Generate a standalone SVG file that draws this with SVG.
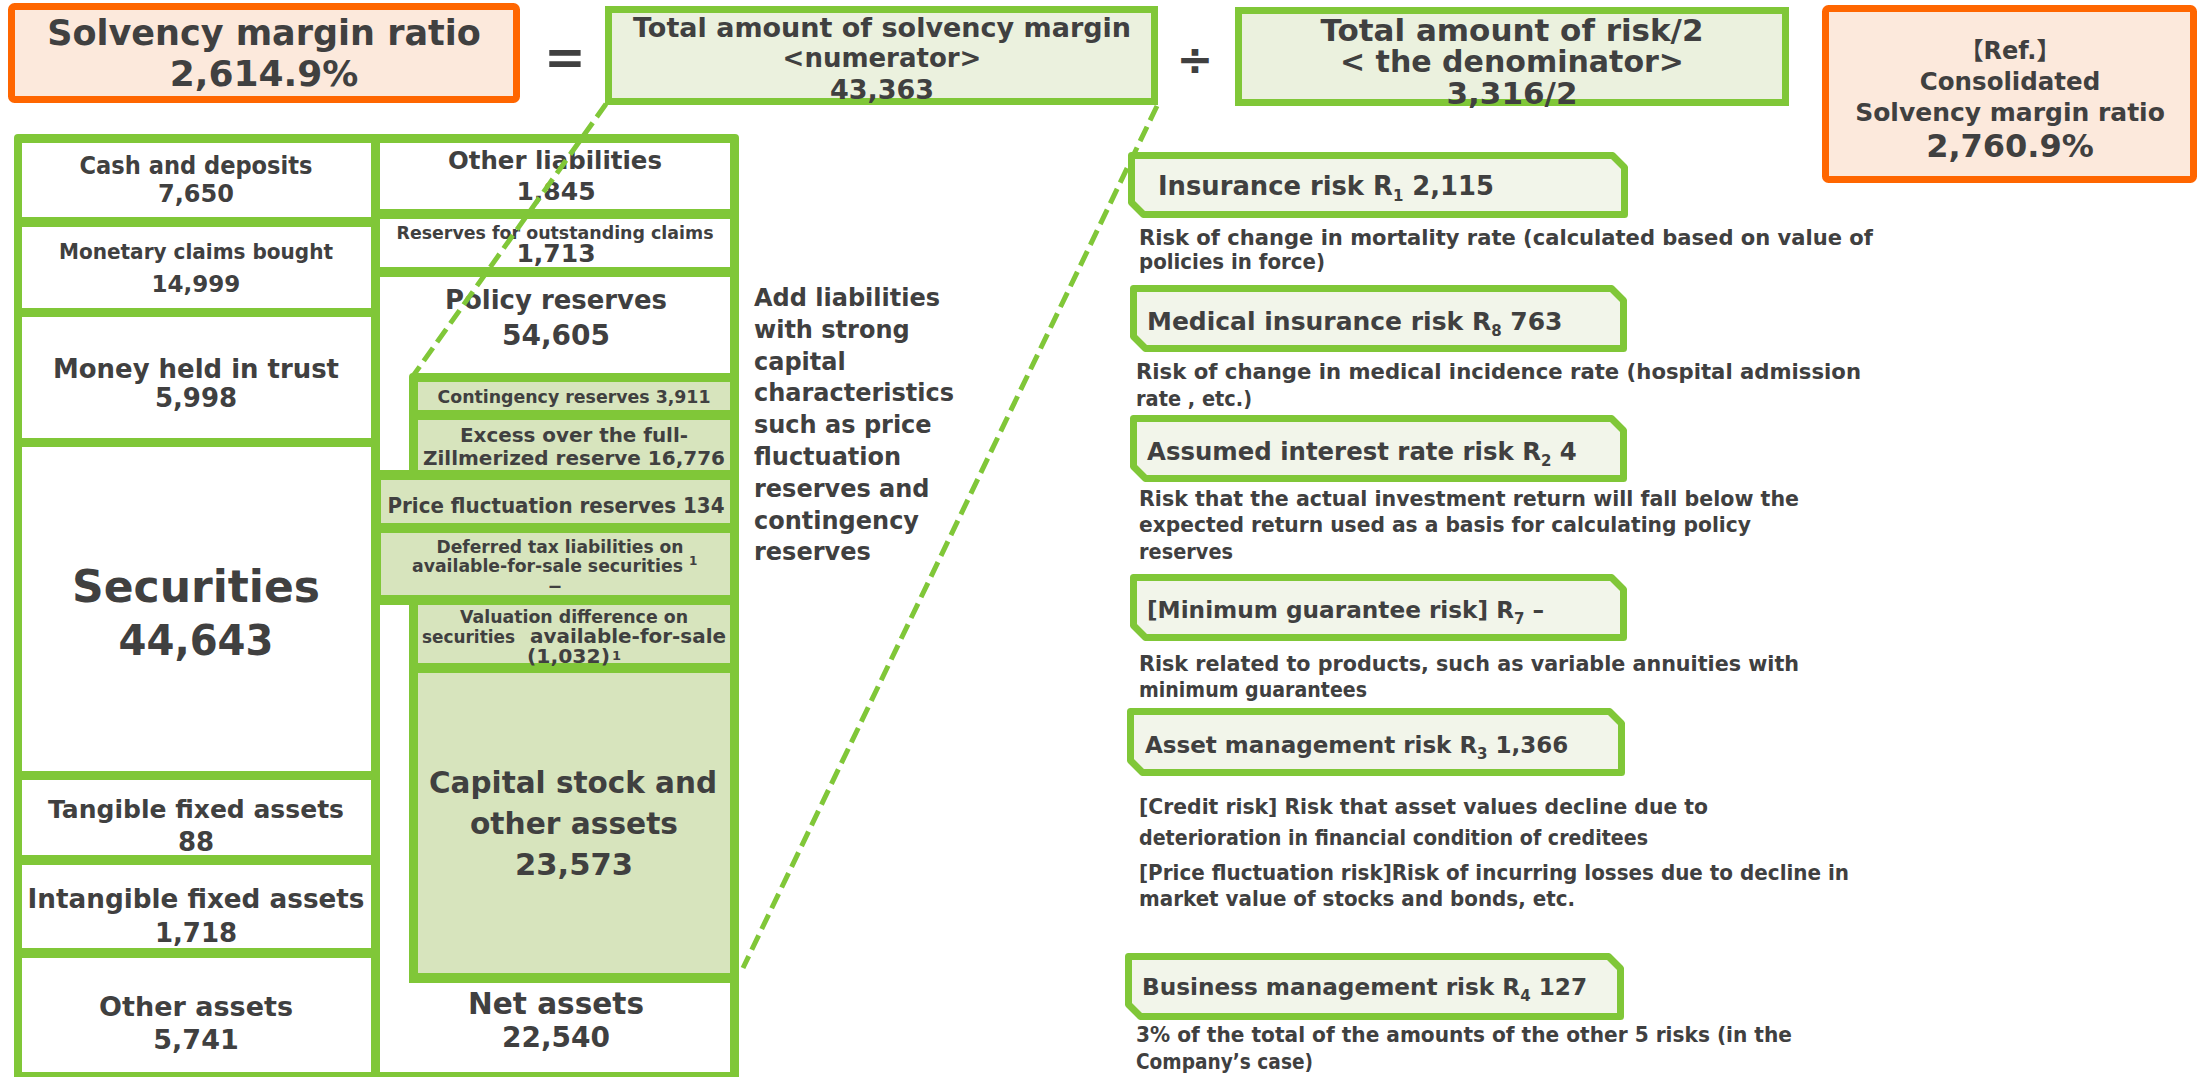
<svg xmlns="http://www.w3.org/2000/svg" width="2197" height="1077" viewBox="0 0 2197 1077">
<style>
text{font-family:"DejaVu Sans","Noto Sans CJK JP",sans-serif;font-weight:bold;fill:#404040}
.c{text-anchor:middle}
.g{fill:#80C738}
.w{fill:#FFFFFF}
.n{fill:#D7E4BD}
.ob{fill:#FCE9DC;stroke:#FF6600;stroke-width:7}
.gb{fill:#EBF1DE;stroke:#80C738;stroke-width:7}
.risk{fill:#F2F5EA;stroke:#80C738;stroke-width:7;stroke-linejoin:round}
.dash{fill:none;stroke:#80C738;stroke-width:5;stroke-dasharray:16 7}
.d{font-size:20.5px}
.sub{font-size:15px}
</style>

<g id="ratio">
<rect class="ob" x="11.5" y="6.5" width="505" height="93" rx="3"/>
<text class="c" x="264" y="45" font-size="35">Solvency margin ratio</text>
<text class="c" x="264" y="86" font-size="36">2,614.9%</text>
</g>
<text id="equals" class="c" x="565" y="74" font-size="50">=</text>
<g id="numerator">
<rect class="gb" x="608.5" y="9.5" width="546" height="92"/>
<text class="c" x="882" y="37" font-size="27">Total amount of solvency margin</text>
<text class="c" x="882" y="67" font-size="26">&lt;numerator&gt;</text>
<text class="c" x="882" y="99" font-size="27">43,363</text>
</g>
<text id="divide" class="c" x="1195" y="75" font-size="44">÷</text>
<g id="denominator">
<rect class="gb" x="1238.5" y="10.5" width="547" height="92"/>
<text class="c" x="1512" y="41" font-size="29.5" textLength="383" lengthAdjust="spacingAndGlyphs">Total amount of risk/2</text>
<text class="c" x="1512" y="72" font-size="29.5" textLength="344" lengthAdjust="spacingAndGlyphs">&lt; the denominator&gt;</text>
<text class="c" x="1512" y="104" font-size="31">3,316/2</text>
</g>
<g id="ref">
<rect class="ob" x="1825.5" y="8.5" width="368" height="171" rx="3"/>
<text class="c" x="2010" y="59" font-size="24">【Ref.】</text>
<text class="c" x="2010" y="90" font-size="24.5">Consolidated</text>
<text class="c" x="2010" y="121" font-size="25">Solvency margin ratio</text>
<text class="c" x="2010" y="157" font-size="32">2,760.9%</text>
</g>

<g id="balance-sheet">
<rect class="g" x="14" y="134" width="725" height="950" rx="4"/>
<g id="assets">
<g id="cash"><rect class="w" x="22" y="143" width="349" height="74"/>
<text class="c" x="196" y="174" font-size="24" textLength="233" lengthAdjust="spacingAndGlyphs">Cash and deposits</text>
<text class="c" x="196" y="202" font-size="24">7,650</text></g>
<g id="monetary"><rect class="w" x="22" y="227" width="349" height="81"/>
<text class="c" x="196" y="259" font-size="20.5" textLength="274" lengthAdjust="spacingAndGlyphs">Monetary claims bought</text>
<text class="c" x="196" y="292" font-size="23">14,999</text></g>
<g id="trust"><rect class="w" x="22" y="317" width="349" height="121"/>
<text class="c" x="196" y="378" font-size="26" textLength="286" lengthAdjust="spacingAndGlyphs">Money held in trust</text>
<text class="c" x="196" y="407" font-size="26">5,998</text></g>
<g id="securities"><rect class="w" x="22" y="447" width="349" height="324"/>
<text class="c" x="196" y="602" font-size="45" textLength="248" lengthAdjust="spacingAndGlyphs">Securities</text>
<text class="c" x="196" y="655" font-size="42" textLength="155" lengthAdjust="spacingAndGlyphs">44,643</text></g>
<g id="tangible"><rect class="w" x="22" y="780" width="349" height="75"/>
<text class="c" x="196" y="818" font-size="25.5" textLength="296" lengthAdjust="spacingAndGlyphs">Tangible fixed assets</text>
<text class="c" x="196" y="851" font-size="26">88</text></g>
<g id="intangible"><rect class="w" x="22" y="865" width="349" height="83"/>
<text class="c" x="196" y="908" font-size="27" textLength="337" lengthAdjust="spacingAndGlyphs">Intangible fixed assets</text>
<text class="c" x="196" y="942" font-size="26">1,718</text></g>
<g id="other-assets"><rect class="w" x="22" y="958" width="349" height="114"/>
<text class="c" x="196" y="1016" font-size="27" textLength="194" lengthAdjust="spacingAndGlyphs">Other assets</text>
<text class="c" x="196" y="1049" font-size="27">5,741</text></g>
</g>
<g id="liabilities">
<g id="other-liabilities"><rect class="w" x="380" y="143" width="350" height="66"/>
<text class="c" x="555" y="169" font-size="24.5" textLength="214" lengthAdjust="spacingAndGlyphs">Other liabilities</text>
<text class="c" x="556" y="200" font-size="25">1,845</text></g>
<g id="outstanding"><rect class="w" x="380" y="219" width="350" height="48"/>
<text class="c" x="555" y="239" font-size="17.5" textLength="317" lengthAdjust="spacingAndGlyphs">Reserves for outstanding claims</text>
<text class="c" x="556" y="262" font-size="25">1,713</text></g>
<g id="policy-reserves"><rect class="w" x="380" y="277" width="350" height="193"/>
<text class="c" x="556" y="309" font-size="26" textLength="222" lengthAdjust="spacingAndGlyphs">Policy reserves</text>
<text class="c" x="556" y="345" font-size="28">54,605</text></g>
<g id="net-assets"><rect class="w" x="380" y="605" width="350" height="467"/>
<text class="c" x="556" y="1014" font-size="29.5" textLength="176" lengthAdjust="spacingAndGlyphs">Net assets</text>
<text class="c" x="556" y="1047" font-size="28">22,540</text></g>
</g>
<g id="margin-items">
<path class="g" d="M413,373 H739 V983 H409 V605 H372 V470 H409 V377 Q409,373 413,373 Z"/>
<g id="contingency"><rect class="n" x="418" y="382" width="312" height="28"/>
<text class="c" x="574" y="403" font-size="17.5" textLength="273" lengthAdjust="spacingAndGlyphs">Contingency reserves 3,911</text></g>
<g id="excess"><rect class="n" x="418" y="420" width="312" height="50"/>
<text class="c" x="574" y="442" font-size="20" textLength="228" lengthAdjust="spacingAndGlyphs">Excess over the full-</text>
<text class="c" x="574" y="465" font-size="20" textLength="302" lengthAdjust="spacingAndGlyphs">Zillmerized reserve 16,776</text></g>
<g id="price-fluctuation"><rect class="n" x="381" y="480" width="349" height="43"/>
<text class="c" x="556" y="513" font-size="20.5" textLength="337" lengthAdjust="spacingAndGlyphs">Price fluctuation reserves 134</text></g>
<g id="deferred-tax"><rect class="n" x="381" y="533" width="349" height="62"/>
<text class="c" x="560" y="553" font-size="17.5" textLength="247" lengthAdjust="spacingAndGlyphs">Deferred tax liabilities on</text>
<text x="412" y="572" font-size="17.5" textLength="271" lengthAdjust="spacingAndGlyphs">available-for-sale securities</text>
<text x="689" y="565" font-size="12">1</text>
<text x="548" y="592" font-size="18" textLength="14" lengthAdjust="spacingAndGlyphs">–</text></g>
<g id="valuation"><rect class="n" x="418" y="605" width="312" height="58"/>
<text class="c" x="574" y="623" font-size="17.5" textLength="228" lengthAdjust="spacingAndGlyphs">Valuation difference on</text>
<text x="422" y="643" font-size="17.5" textLength="93" lengthAdjust="spacingAndGlyphs">securities</text>
<text x="530" y="643" font-size="20" textLength="196" lengthAdjust="spacingAndGlyphs">available-for-sale</text>
<text x="527" y="663" font-size="20" textLength="83" lengthAdjust="spacingAndGlyphs">(1,032)</text>
<text x="612" y="660" font-size="13">1</text></g>
<g id="capital"><rect class="n" x="418" y="673" width="312" height="300"/>
<text class="c" x="573" y="793" font-size="30" textLength="288" lengthAdjust="spacingAndGlyphs">Capital stock and</text>
<text class="c" x="574" y="834" font-size="30" textLength="208" lengthAdjust="spacingAndGlyphs">other assets</text>
<text class="c" x="574" y="875" font-size="30" textLength="118" lengthAdjust="spacingAndGlyphs">23,573</text></g>
</g>
</g>

<g id="note">
<text x="754" y="306" font-size="24">Add liabilities</text>
<text x="754" y="338" font-size="24">with strong</text>
<text x="754" y="370" font-size="24">capital</text>
<text x="754" y="401" font-size="24">characteristics</text>
<text x="754" y="433" font-size="24">such as price</text>
<text x="754" y="465" font-size="24">fluctuation</text>
<text x="754" y="497" font-size="24">reserves and</text>
<text x="754" y="529" font-size="24">contingency</text>
<text x="754" y="560" font-size="24">reserves</text>
</g>

<g id="connectors">
<line class="dash" x1="606" y1="104" x2="413" y2="376"/>
<line class="dash" x1="1157" y1="106" x2="743" y2="968"/>
</g>

<g id="risk-insurance">
<polygon class="risk" points="1131.5,155.5 1612.5,155.5 1624.5,167.5 1624.5,214.5 1143.5,214.5 1131.5,202.5"/>
<text x="1158" y="195" font-size="25.8">Insurance risk R<tspan class="sub" dy="6">1</tspan><tspan dy="-6"> 2,115</tspan></text>
<text class="d" x="1139" y="245" textLength="734" lengthAdjust="spacingAndGlyphs">Risk of change in mortality rate (calculated based on value of</text>
<text class="d" x="1139" y="269" textLength="186" lengthAdjust="spacingAndGlyphs">policies in force)</text>
</g>
<g id="risk-medical">
<polygon class="risk" points="1133.5,288.5 1611.5,288.5 1623.5,300.5 1623.5,348.5 1145.5,348.5 1133.5,336.5"/>
<text x="1147" y="330" font-size="25">Medical insurance risk R<tspan class="sub" dy="6">8</tspan><tspan dy="-6"> 763</tspan></text>
<text class="d" x="1136" y="379" textLength="725" lengthAdjust="spacingAndGlyphs">Risk of change in medical incidence rate (hospital admission</text>
<text class="d" x="1136" y="406" textLength="116" lengthAdjust="spacingAndGlyphs">rate , etc.)</text>
</g>
<g id="risk-interest">
<polygon class="risk" points="1133.5,418.5 1611.5,418.5 1623.5,430.5 1623.5,478.5 1145.5,478.5 1133.5,466.5"/>
<text x="1147" y="460" font-size="24.4">Assumed interest rate risk R<tspan class="sub" dy="6">2</tspan><tspan dy="-6"> 4</tspan></text>
<text class="d" x="1139" y="506" textLength="660" lengthAdjust="spacingAndGlyphs">Risk that the actual investment return will fall below the</text>
<text class="d" x="1139" y="532" textLength="612" lengthAdjust="spacingAndGlyphs">expected return used as a basis for calculating policy</text>
<text class="d" x="1139" y="559" textLength="94" lengthAdjust="spacingAndGlyphs">reserves</text>
</g>
<g id="risk-guarantee">
<polygon class="risk" points="1133.5,577.5 1611.5,577.5 1623.5,589.5 1623.5,637.5 1145.5,637.5 1133.5,625.5"/>
<text x="1147" y="618" font-size="23.2">[Minimum guarantee risk] R<tspan class="sub" dy="6">7</tspan><tspan dy="-6"> –</tspan></text>
<text class="d" x="1139" y="671" textLength="660" lengthAdjust="spacingAndGlyphs">Risk related to products, such as variable annuities with</text>
<text class="d" x="1139" y="697" textLength="228" lengthAdjust="spacingAndGlyphs">minimum guarantees</text>
</g>
<g id="risk-asset">
<polygon class="risk" points="1130.5,711.5 1609.5,711.5 1621.5,723.5 1621.5,772.5 1142.5,772.5 1130.5,760.5"/>
<text x="1145" y="753" font-size="23">Asset management risk R<tspan class="sub" dy="6">3</tspan><tspan dy="-6"> 1,366</tspan></text>
<text class="d" x="1139" y="814" textLength="569" lengthAdjust="spacingAndGlyphs">[Credit risk] Risk that asset values decline due to</text>
<text class="d" x="1139" y="845" textLength="509" lengthAdjust="spacingAndGlyphs">deterioration in financial condition of creditees</text>
<text class="d" x="1139" y="880" textLength="710" lengthAdjust="spacingAndGlyphs">[Price fluctuation risk]Risk of incurring losses due to decline in</text>
<text class="d" x="1139" y="906" textLength="436" lengthAdjust="spacingAndGlyphs">market value of stocks and bonds, etc.</text>
</g>
<g id="risk-business">
<polygon class="risk" points="1128.5,956.5 1608.5,956.5 1620.5,968.5 1620.5,1016.5 1140.5,1016.5 1128.5,1004.5"/>
<text x="1142" y="995" font-size="23.2">Business management risk R<tspan class="sub" dy="6">4</tspan><tspan dy="-6"> 127</tspan></text>
<text class="d" x="1136" y="1042" textLength="656" lengthAdjust="spacingAndGlyphs">3% of the total of the amounts of the other 5 risks (in the</text>
<text class="d" x="1136" y="1069" textLength="177" lengthAdjust="spacingAndGlyphs">Company’s case)</text>
</g>
</svg>
